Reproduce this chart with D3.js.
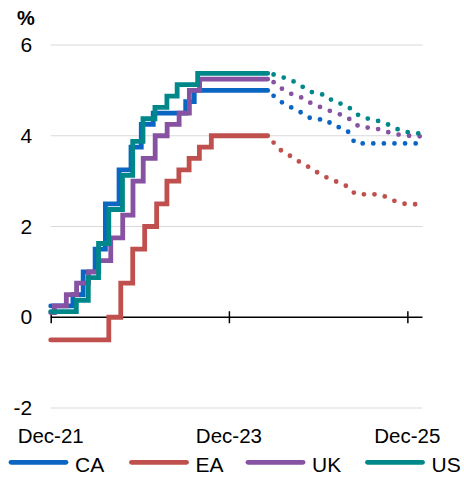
<!DOCTYPE html>
<html><head><meta charset="utf-8">
<script src="https://cdn.jsdelivr.net/npm/d3@7"></script>
<style>
html,body{margin:0;padding:0;background:#fff;}
svg{display:block;font-family:"Liberation Sans",Arial,sans-serif;}
</style></head>
<body><svg id="c" width="464" height="477"></svg>
<script>
// ---- Data ----
const seriesNames = ["CA","EA","UK","US"];
const seriesColors = ["#0A66C2","#C0504D","#8652A1","#00878A"];

// Policy rates (step changes), [date, value]
const caActual = [["2021-12-01",0.25],["2022-03-02",0.5],["2022-04-13",1.0],["2022-06-01",1.5],["2022-07-13",2.5],["2022-09-07",3.25],["2022-10-26",3.75],["2022-12-07",4.25],["2023-01-25",4.5],["2023-06-07",4.75],["2023-07-12",5.0],["2024-05-08",5.0]];
const eaActual = [["2021-12-01",-0.5],["2022-07-27",0.0],["2022-09-14",0.75],["2022-11-02",1.5],["2022-12-21",2.0],["2023-02-08",2.5],["2023-03-22",3.0],["2023-05-10",3.25],["2023-06-21",3.5],["2023-08-02",3.75],["2023-09-20",4.0],["2024-05-08",4.0]];
const ukActual = [["2021-12-01",0.1],["2021-12-16",0.25],["2022-02-03",0.5],["2022-03-17",0.75],["2022-05-05",1.0],["2022-06-16",1.25],["2022-08-04",1.75],["2022-09-22",2.25],["2022-11-03",3.0],["2022-12-15",3.5],["2023-02-02",4.0],["2023-03-23",4.25],["2023-05-11",4.5],["2023-06-22",5.0],["2023-08-03",5.25],["2024-05-08",5.25]];
const usActual = [["2021-12-01",0.125],["2022-03-16",0.375],["2022-05-04",0.875],["2022-06-15",1.625],["2022-07-27",2.375],["2022-09-21",3.125],["2022-11-02",3.875],["2022-12-14",4.375],["2023-02-01",4.625],["2023-03-22",4.875],["2023-05-03",5.125],["2023-07-26",5.375],["2024-05-08",5.375]];

// Market-implied paths, monthly Jun-24 .. Feb-26
const forecastMonths = ["2024-06","2024-07","2024-08","2024-09","2024-10","2024-11","2024-12","2025-01","2025-02","2025-03","2025-04","2025-05","2025-06","2025-07","2025-08","2025-09","2025-10","2025-11","2025-12","2026-01","2026-02"];
const caForecast = [4.88,4.75,4.65,4.58,4.48,4.38,4.36,4.36,4.22,4.18,4.10,3.83,3.83,3.83,3.83,3.83,3.83,3.83,3.83,3.83,3.83];
const eaForecast = [3.85,3.68,3.58,3.47,3.38,3.28,3.18,3.09,3.02,2.95,2.88,2.72,2.71,2.71,2.71,2.66,2.58,2.52,2.49,2.49,2.49];
const ukForecast = [5.18,5.05,4.95,4.88,4.83,4.72,4.65,4.58,4.52,4.47,4.40,4.25,4.18,4.18,4.15,4.10,4.05,4.02,4.00,4.00,3.98];
const usForecast = [5.35,5.30,5.25,5.17,5.07,4.97,4.92,4.90,4.75,4.71,4.65,4.50,4.40,4.37,4.33,4.28,4.20,4.12,4.08,4.06,4.04];

const yTicks = [6,4,2,0,-2];
const xTickDates = ["2021-12-01","2023-12-01","2025-12-01"];
const xTickLabels = ["Dec-21","Dec-23","Dec-25"];

// ---- Chart ----
const parse = d3.timeParse("%Y-%m-%d");
const parseM = d3.timeParse("%Y-%m");
const svg = d3.select("#c");
const x = d3.scaleTime().domain([parse("2021-12-01"), parse("2026-02-01")]).range([50.7, 422.5]);
const y = d3.scaleLinear().domain([-2, 6]).range([408, 45]);

// gridlines
svg.append("g").selectAll("line").data(yTicks.filter(d => d !== 0)).join("line")
  .attr("x1", x.range()[0]).attr("x2", x.range()[1])
  .attr("y1", d => y(d)).attr("y2", d => y(d))
  .attr("stroke", "#d9d9d9").attr("stroke-width", 1.2);

// y labels
const yAxis = svg.append("g").attr("transform", `translate(${x.range()[0]},0)`)
  .call(d3.axisLeft(y).tickValues(yTicks).tickSize(0).tickPadding(18.5).tickFormat(d => String(d)));
yAxis.select(".domain").remove();
yAxis.selectAll("text").attr("font-size", 21).attr("fill", "#000").style("font-family", "Liberation Sans, Arial, sans-serif");

// % label
svg.append("text").attr("x", 17).attr("y", 25).attr("font-size", 20).attr("font-weight", "bold").text("%");

// x axis at zero
const xAxis = svg.append("g").attr("transform", `translate(0,${y(0)})`)
  .call(d3.axisBottom(x).tickValues(xTickDates.map(parse)).tickSize(6).tickFormat(""));
xAxis.select(".domain").attr("d", `M${x.range()[0]},0H${x.range()[1]}`).attr("stroke", "#000").attr("stroke-width", 1.5);
xAxis.selectAll(".tick line").attr("y1", -6).attr("y2", 6).attr("stroke", "#000").attr("stroke-width", 1.5);

// x labels at bottom
svg.append("g").selectAll("text").data(xTickDates).join("text")
  .attr("x", d => x(parse(d))).attr("y", 442.5).attr("text-anchor", "middle")
  .attr("font-size", 20.5).text((d, i) => xTickLabels[i]);

const actuals = [caActual, eaActual, ukActual, usActual];
const forecasts = [caForecast, eaForecast, ukForecast, usForecast];

const stepLine = d3.line().x(d => x(parse(d[0]))).y(d => y(d[1])).curve(d3.curveStepAfter);
const fLine = d3.line().x((d, i) => x(parseM(forecastMonths[i]))).y(d => y(d));

seriesNames.forEach((name, i) => {
  svg.append("path").datum(actuals[i]).attr("d", stepLine)
    .attr("fill", "none").attr("stroke", seriesColors[i]).attr("stroke-width", 4.8)
    .attr("stroke-linecap", "round").attr("stroke-linejoin", "miter");
});
seriesNames.forEach((name, i) => {
  svg.append("path").datum(forecasts[i]).attr("d", fLine)
    .attr("fill", "none").attr("stroke", seriesColors[i]).attr("stroke-width", 4.8)
    .attr("stroke-linecap", "round").attr("stroke-dasharray", "0 10.6");
});

// legend
const legX = [10, 130.5, 247, 366.5];
const leg = svg.append("g").selectAll("g").data(seriesNames).join("g")
  .attr("transform", (d, i) => `translate(${legX[i]},462.3)`);
leg.append("line").attr("x1", 1).attr("x2", 56).attr("y1", 0).attr("y2", 0)
  .attr("stroke", (d, i) => seriesColors[i]).attr("stroke-width", 4.8).attr("stroke-linecap", "round");
leg.append("text").attr("x", 65).attr("y", 9.3).attr("font-size", 21).text(d => d);
</script>
</body></html>
